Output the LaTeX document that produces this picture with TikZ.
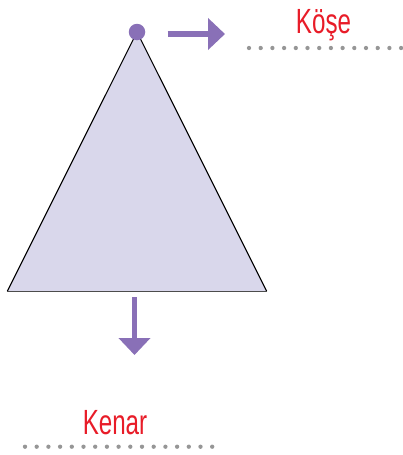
\documentclass[tikz,border=0pt]{standalone}
\usepackage{fontspec}
\newfontfamily\lblfont[FakeStretch=0.69]{Liberation Sans}
\usetikzlibrary{arrows.meta}
\definecolor{tri}{RGB}{217,215,235}
\definecolor{purp}{RGB}{137,112,183}
\definecolor{lblred}{RGB}{232,28,40}
\definecolor{dotgray}{RGB}{150,150,150}
\tikzset{
  arr/.style={draw=purp, line width=5.7pt, -{Triangle[width=31pt,length=17pt]}},
  lbl/.style={text=lblred, font=\lblfont\fontsize{35}{40}\selectfont, inner sep=0pt, anchor=base},
  dotline/.style={draw=dotgray, line width=4.3pt, line cap=round, dash pattern=on 0pt off 11.7pt}
}
\begin{document}
\begin{tikzpicture}[x=1pt,y=-1pt]
\useasboundingbox (0,0) rectangle (403,455);
\coordinate (A) at (137,32);
\coordinate (B) at (7.3,291.3);
\coordinate (C) at (266.7,291.3);
\fill[tri] (A) -- (B) -- (C) -- cycle;
\draw[line width=1.1pt, line join=miter] (C) -- (A) -- (B);
\draw[line width=1.3pt, draw=black!70] (B) -- (C);
\node[circle, fill=purp, minimum size=16.5pt, inner sep=0pt] (dot) at (A) {};
\coordinate (r1) at (167.5,34);
\coordinate (r2) at (225,34);
\draw[arr] (r1) -- (r2);
\coordinate (d1) at (134.5,297.3);
\coordinate (d2) at (134.5,355);
\draw[arr] (d1) -- (d2);
\node[lbl] (kose) at (323.5,33) {Köşe};
\node[lbl] (kenar) at (115,434) {Kenar};
\coordinate (kl1) at (249,48);
\coordinate (kl2) at (402,48);
\draw[dotline] (kl1) -- (kl2);
\coordinate (el1) at (25,446.7);
\coordinate (el2) at (215,446.7);
\draw[dotline] (el1) -- (el2);
\end{tikzpicture}
\end{document}
